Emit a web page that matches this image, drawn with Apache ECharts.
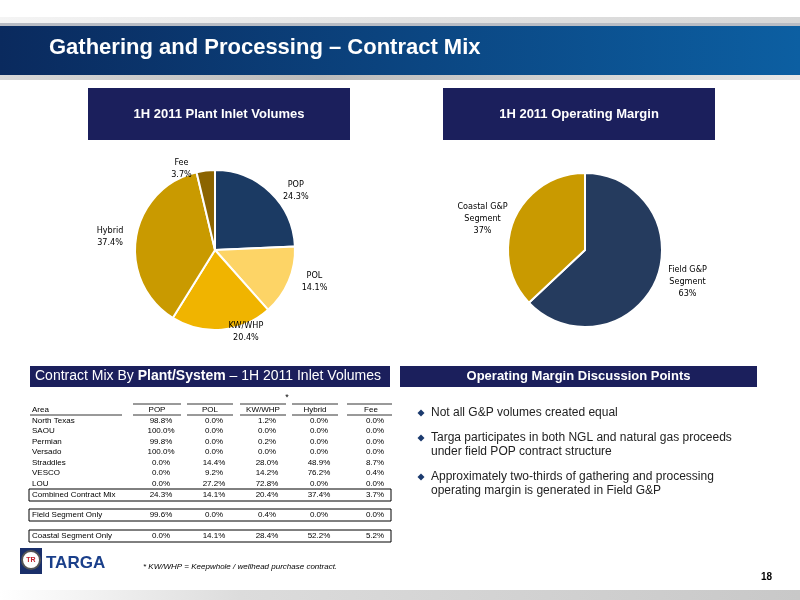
<!DOCTYPE html>
<html>
<head>
<meta charset="UTF-8">
<title>Gathering and Processing – Contract Mix</title>
<script src="https://cdn.jsdelivr.net/npm/echarts@6/dist/echarts.min.js"></script>
<style>html,body{margin:0;padding:0;background:#fff}#main{width:800px;height:600px}</style>
</head>
<body>
<div id="main"></div>
<script>
  // pie data
  var inletNames = ['POP', 'POL', 'KW/WHP', 'Hybrid', 'Fee'];
  var inletValues = [24.3, 14.1, 20.4, 37.4, 3.7];
  var marginNames = ['Field G&P\nSegment', 'Coastal G&P\nSegment'];
  var marginValues = [63, 37];

  // table data
  var tableHeader = ['POP', 'POL', 'KW/WHP', 'Hybrid', 'Fee'];
  var areas = ['North Texas', 'SAOU', 'Permian', 'Versado', 'Straddles', 'VESCO', 'LOU'];
  var areaRows = [
    ['98.8%', '0.0%', '1.2%', '0.0%', '0.0%'],
    ['100.0%', '0.0%', '0.0%', '0.0%', '0.0%'],
    ['99.8%', '0.0%', '0.2%', '0.0%', '0.0%'],
    ['100.0%', '0.0%', '0.0%', '0.0%', '0.0%'],
    ['0.0%', '14.4%', '28.0%', '48.9%', '8.7%'],
    ['0.0%', '9.2%', '14.2%', '76.2%', '0.4%'],
    ['0.0%', '27.2%', '72.8%', '0.0%', '0.0%']
  ];
  var totalNames = ['Combined Contract Mix', 'Field Segment Only', 'Coastal Segment Only'];
  var totalRows = [
    ['24.3%', '14.1%', '20.4%', '37.4%', '3.7%'],
    ['99.6%', '0.0%', '0.4%', '0.0%', '0.0%'],
    ['0.0%', '14.1%', '28.4%', '52.2%', '5.2%']
  ];
  var bullets = [
    'Not all G&P volumes created equal',
    'Targa participates in both NGL and natural gas proceeds\nunder field POP contract structure',
    'Approximately two-thirds of gathering and processing\noperating margin is generated in Field G&P'
  ];

  var navy = '#1b1f5c';
  var colX = [157, 210, 263, 315, 371];
  var lineX = [[133, 181], [187, 233], [240, 286], [292, 338], [347, 392]];
  var rowY = [421, 431, 442, 452, 463, 473, 484];
  var totalY = [495, 515, 536];
  var tf = '"Liberation Sans Narrow", "Liberation Sans", Arial, sans-serif';
  var g = [];

  // header band
  g.push({type: 'rect', shape: {x: 0, y: 17, width: 800, height: 8}, style: {fill: new echarts.graphic.LinearGradient(0, 0, 1, 0, [{offset: 0, color: '#f4f4f4'}, {offset: 0.5, color: '#e2e2e2'}, {offset: 1, color: '#d6d6d6'}])}});
  g.push({type: 'rect', shape: {x: 0, y: 25, width: 800, height: 50}, style: {fill: new echarts.graphic.LinearGradient(0, 0, 1, 0, [{offset: 0, color: '#0a2a5e'}, {offset: 1, color: '#0c5fa2'}])}});
  g.push({type: 'rect', shape: {x: 0, y: 23, width: 800, height: 3}, style: {fill: '#b8bcc4'}});
  g.push({type: 'rect', shape: {x: 0, y: 75, width: 800, height: 5}, style: {fill: new echarts.graphic.LinearGradient(0, 0, 1, 0, [{offset: 0, color: '#d8d8d8'}, {offset: 0.4, color: '#bbbbbb'}, {offset: 1, color: '#e8e8e8'}])}});
  g.push({type: 'text', x: 49, y: 48, style: {text: 'Gathering and Processing – Contract Mix', fill: '#fff', font: 'bold 22px "Liberation Sans Narrow", Arial', verticalAlign: 'middle'}});

  // section boxes
  function box(x, y, w, h, txt, rich, align) {
    g.push({type: 'rect', shape: {x: x, y: y, width: w, height: h}, style: {fill: navy}});
    var t = {type: 'text', x: align === 'left' ? x + 5 : x + w / 2, y: y + h / 2,
      style: {text: txt, fill: '#fff', font: 'bold 13px Arial', align: align || 'center', verticalAlign: 'middle'}};
    if (rich) { t.style.rich = rich; t.style.font = '14px Arial'; }
    g.push(t);
  }
  box(88, 88, 262, 52, '1H 2011 Plant Inlet Volumes');
  box(443, 88, 272, 52, '1H 2011 Operating Margin');
  box(30, 366, 360, 21, '{n|Contract Mix By }{b|Plant/System}{n| – 1H 2011 Inlet Volumes}',
      {n: {fill: '#fff', font: '14px Arial'}, b: {fill: '#fff', font: 'bold 14px Arial'}}, 'left');
  box(400, 366, 357, 21, 'Operating Margin Discussion Points');

  // table
  var tfont = '8px ' + tf;
  g.push({type: 'text', x: 287, y: 398, style: {text: '*', font: '9px Arial', fill: '#000', align: 'center', verticalAlign: 'middle'}});
  g.push({type: 'text', x: 32, y: 410, style: {text: 'Area', font: tfont, fill: '#000', verticalAlign: 'middle'}});
  g.push({type: 'line', shape: {x1: 30, y1: 415, x2: 122, y2: 415}, style: {stroke: '#000', lineWidth: 0.8}});
  tableHeader.forEach(function (h, i) {
    g.push({type: 'text', x: colX[i], y: 410, style: {text: h, font: tfont, fill: '#000', align: 'center', verticalAlign: 'middle'}});
    g.push({type: 'line', shape: {x1: lineX[i][0], y1: 404, x2: lineX[i][1], y2: 404}, style: {stroke: '#000', lineWidth: 0.8}});
    g.push({type: 'line', shape: {x1: lineX[i][0], y1: 415, x2: lineX[i][1], y2: 415}, style: {stroke: '#000', lineWidth: 0.8}});
  });
  function row(name, vals, y) {
    g.push({type: 'text', x: 32, y: y, style: {text: name, font: tfont, fill: '#000', verticalAlign: 'middle'}});
    vals.forEach(function (v, i) {
      g.push({type: 'text', x: colX[i] + 4, y: y, style: {text: v, font: tfont, fill: '#000', align: 'center', verticalAlign: 'middle'}});
    });
  }
  areas.forEach(function (a, i) { row(a, areaRows[i], rowY[i]); });
  totalNames.forEach(function (a, i) {
    g.push({type: 'rect', shape: {x: 29, y: totalY[i] - 6, width: 362, height: 12}, style: {fill: 'none', stroke: '#000', lineWidth: 1}});
    row(a, totalRows[i], totalY[i]);
  });

  // bullets
  var by = [413, 438, 477];
  bullets.forEach(function (b, i) {
    g.push({type: 'polygon', shape: {points: [[421, by[i] - 3.5], [424.5, by[i]], [421, by[i] + 3.5], [417.5, by[i]]]}, style: {fill: '#1b3a6e'}});
    g.push({type: 'text', x: 431, y: by[i] - 7, style: {text: b, font: '12px Arial', fill: '#222', lineHeight: 14}});
  });

  // logo and footer
  g.push({type: 'rect', shape: {x: 20, y: 548, width: 22, height: 26}, style: {fill: '#1a2f6a'}});
  g.push({type: 'circle', shape: {cx: 31, cy: 560, r: 9}, style: {fill: '#fff', stroke: '#555', lineWidth: 2}});
  g.push({type: 'text', x: 31, y: 560, style: {text: 'TR', font: 'bold 7px Arial', fill: '#c0202a', align: 'center', verticalAlign: 'middle'}});
  g.push({type: 'text', x: 46, y: 563, style: {text: 'TARGA', font: 'bold 17px Arial', fill: '#1a3f8a', verticalAlign: 'middle'}});
  g.push({type: 'text', x: 143, y: 567, style: {text: '* KW/WHP = Keepwhole / wellhead purchase contract.', font: 'italic 8px ' + tf, fill: '#000', verticalAlign: 'middle'}});
  g.push({type: 'text', x: 772, y: 577, style: {text: '18', font: 'bold 10px Arial', fill: '#000', align: 'right', verticalAlign: 'middle'}});
  g.push({type: 'rect', shape: {x: 0, y: 590, width: 800, height: 10}, style: {fill: new echarts.graphic.LinearGradient(0, 0, 1, 0, [{offset: 0, color: '#ffffff'}, {offset: 0.3, color: '#dcdcdc'}, {offset: 1, color: '#c8c8c8'}])}});

  var labelFamily = '"Liberation Sans Narrow", "DejaVu Sans Condensed", sans-serif';
  function centered(w) {
    return {c: {fontFamily: labelFamily, fontSize: 9, color: '#000', width: w, align: 'center', lineHeight: 12}};
  }
  function centerLines(s) {
    return s.split('\n').map(function (l) { return '{c|' + l + '}'; }).join('\n');
  }

  var option = {
    animation: false,
    graphic: g,
    series: [{
      type: 'pie',
      center: [215, 250],
      radius: 80,
      startAngle: 90,
      clockwise: true,
      itemStyle: {borderColor: '#fff', borderWidth: 2},
      color: ['#1b3a63', '#fdd466', '#f0b400', '#c99a00', '#8b6400'],
      label: {position: 'outside', rich: centered(38),
        formatter: function (p) { return centerLines(p.name + '\n' + p.value.toFixed(1) + '%'); }},
      labelLine: {show: false, length: 2, length2: 0},
      data: inletNames.map(function (n, i) { return {name: n, value: inletValues[i]}; })
    }, {
      type: 'pie',
      center: [585, 250],
      radius: 77,
      startAngle: 90,
      itemStyle: {borderColor: '#fff', borderWidth: 2},
      color: ['#253b5e', '#c99a00'],
      label: {position: 'outside', rich: centered(50),
        formatter: function (p) { return centerLines(p.name + '\n' + p.value + '%'); }},
      labelLine: {show: false, length: 2, length2: 0},
      data: marginNames.map(function (n, i) { return {name: n, value: marginValues[i]}; })
    }]
  };

  var myChart = echarts.init(document.getElementById('main'));
  myChart.setOption(option);
</script>
</body>
</html>
